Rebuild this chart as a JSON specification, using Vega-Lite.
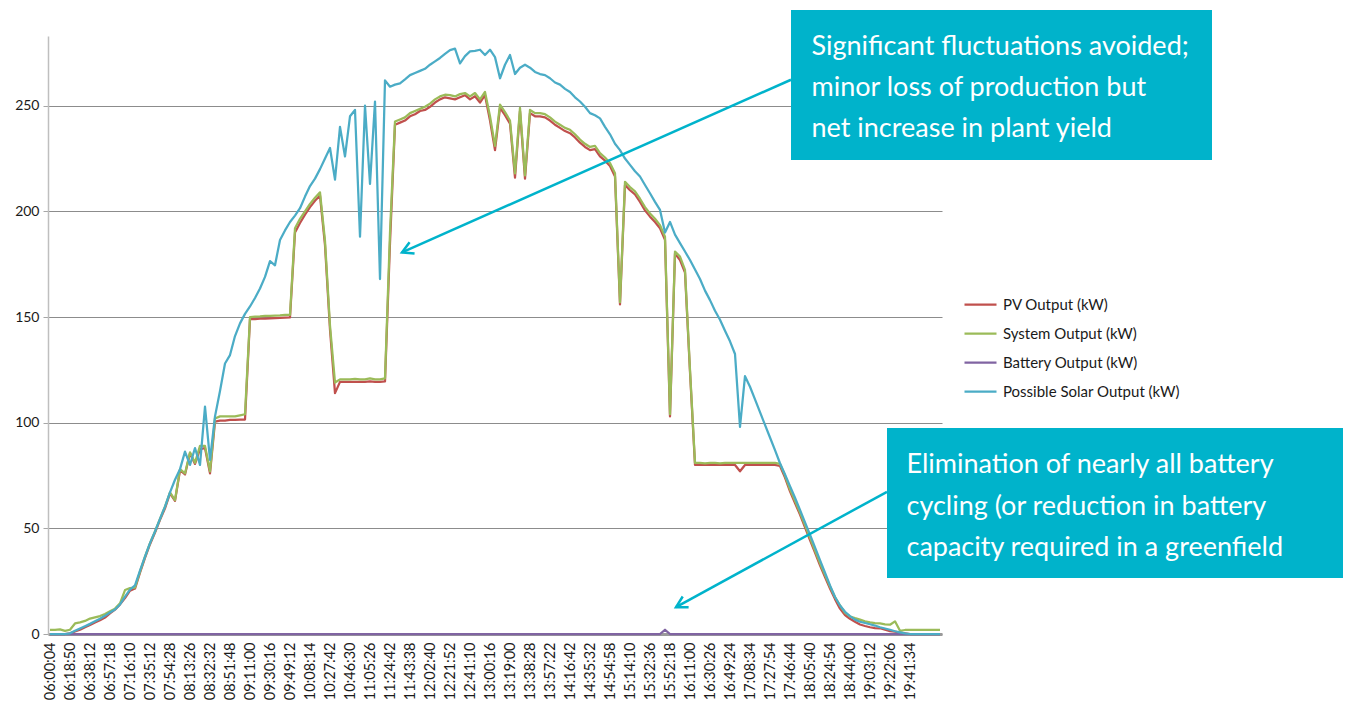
{
  "$schema": "https://vega.github.io/schema/vega-lite/v6.json",
  "width": 894,
  "height": 598,
  "autosize": {"type": "none"},
  "padding": {"left": 48, "top": 36, "right": 410, "bottom": 75},
  "background": "white",
  "config": {"view": {"stroke": null}, "font": "Lato"},
  "resolve": {"scale": {"x": "independent", "y": "independent"}},
  "layer": [
    {
      "data": {"values": [
        {"t":"06:00:04","pv":0,"sys":2,"bat":0,"pos":0},
        {"t":"06:04:45","pv":0,"sys":2,"bat":0,"pos":0},
        {"t":"06:09:27","pv":0,"sys":2.2,"bat":0,"pos":0},
        {"t":"06:14:08","pv":0,"sys":1.5,"bat":0,"pos":0},
        {"t":"06:18:50","pv":0.3,"sys":2,"bat":0,"pos":0.3},
        {"t":"06:23:40","pv":1.2,"sys":5,"bat":0,"pos":1.5},
        {"t":"06:28:31","pv":2,"sys":5.5,"bat":0,"pos":2.6},
        {"t":"06:33:21","pv":3.2,"sys":6.2,"bat":0,"pos":3.7},
        {"t":"06:38:12","pv":4.3,"sys":7.3,"bat":0,"pos":4.8},
        {"t":"06:42:58","pv":5.5,"sys":7.9,"bat":0,"pos":6},
        {"t":"06:47:45","pv":6.5,"sys":8.5,"bat":0,"pos":7.2},
        {"t":"06:52:31","pv":7.8,"sys":9.5,"bat":0,"pos":8.6},
        {"t":"06:57:18","pv":9.8,"sys":10.8,"bat":0,"pos":10.2},
        {"t":"07:02:01","pv":11.5,"sys":12,"bat":0,"pos":11.6},
        {"t":"07:06:44","pv":14,"sys":14.5,"bat":0,"pos":14},
        {"t":"07:11:27","pv":17,"sys":20.8,"bat":0,"pos":17.7},
        {"t":"07:16:10","pv":20.5,"sys":21.7,"bat":0,"pos":21},
        {"t":"07:20:55","pv":21.5,"sys":22,"bat":0,"pos":23},
        {"t":"07:25:41","pv":29,"sys":29.5,"bat":0,"pos":30},
        {"t":"07:30:26","pv":36,"sys":36.6,"bat":0,"pos":36.6},
        {"t":"07:35:12","pv":42.5,"sys":43,"bat":0,"pos":43},
        {"t":"07:40:01","pv":48,"sys":48.5,"bat":0,"pos":48.5},
        {"t":"07:44:50","pv":54,"sys":54.5,"bat":0,"pos":54.5},
        {"t":"07:49:39","pv":59.5,"sys":60.3,"bat":0,"pos":60.3},
        {"t":"07:54:28","pv":66.5,"sys":67,"bat":0,"pos":67},
        {"t":"07:59:12","pv":63,"sys":63.4,"bat":0,"pos":73},
        {"t":"08:03:57","pv":77.5,"sys":78,"bat":0,"pos":78},
        {"t":"08:08:41","pv":75.5,"sys":76,"bat":0,"pos":86.3},
        {"t":"08:13:26","pv":85.5,"sys":86,"bat":0,"pos":80},
        {"t":"08:18:12","pv":80.5,"sys":81,"bat":0,"pos":88},
        {"t":"08:22:59","pv":87.5,"sys":89,"bat":0,"pos":80},
        {"t":"08:27:45","pv":88,"sys":89,"bat":0,"pos":107.6},
        {"t":"08:32:32","pv":76,"sys":77,"bat":0,"pos":82.4},
        {"t":"08:37:21","pv":100.5,"sys":102,"bat":0,"pos":103},
        {"t":"08:42:10","pv":101,"sys":103,"bat":0,"pos":115},
        {"t":"08:46:59","pv":101,"sys":103,"bat":0,"pos":128},
        {"t":"08:51:48","pv":101.3,"sys":103,"bat":0,"pos":132},
        {"t":"08:56:36","pv":101.3,"sys":103,"bat":0,"pos":141},
        {"t":"09:01:24","pv":101.5,"sys":103.5,"bat":0,"pos":147},
        {"t":"09:06:12","pv":101.5,"sys":104,"bat":0,"pos":151.5},
        {"t":"09:11:00","pv":149,"sys":150,"bat":0,"pos":155},
        {"t":"09:15:49","pv":149,"sys":150.2,"bat":0,"pos":159},
        {"t":"09:20:38","pv":149.2,"sys":150.3,"bat":0,"pos":163.5},
        {"t":"09:25:27","pv":149.3,"sys":150.5,"bat":0,"pos":169},
        {"t":"09:30:16","pv":149.4,"sys":150.6,"bat":0,"pos":176.5},
        {"t":"09:35:00","pv":149.5,"sys":150.7,"bat":0,"pos":174.5},
        {"t":"09:39:44","pv":149.6,"sys":150.8,"bat":0,"pos":186.5},
        {"t":"09:44:28","pv":149.7,"sys":151,"bat":0,"pos":191},
        {"t":"09:49:12","pv":149.8,"sys":151,"bat":0,"pos":195},
        {"t":"09:53:57","pv":190,"sys":192,"bat":0,"pos":198},
        {"t":"09:58:43","pv":194.5,"sys":196.5,"bat":0,"pos":201.5},
        {"t":"10:03:28","pv":198.5,"sys":200,"bat":0,"pos":207},
        {"t":"10:08:14","pv":202,"sys":203.5,"bat":0,"pos":212},
        {"t":"10:13:06","pv":205,"sys":206.5,"bat":0,"pos":215.5},
        {"t":"10:17:58","pv":207.5,"sys":209,"bat":0,"pos":220},
        {"t":"10:22:50","pv":184,"sys":186,"bat":0,"pos":225},
        {"t":"10:27:42","pv":144,"sys":146,"bat":0,"pos":230},
        {"t":"10:32:24","pv":114,"sys":119,"bat":0,"pos":215},
        {"t":"10:37:06","pv":119.3,"sys":120.5,"bat":0,"pos":240},
        {"t":"10:41:48","pv":119.3,"sys":120.5,"bat":0,"pos":226},
        {"t":"10:46:30","pv":119.3,"sys":120.5,"bat":0,"pos":245},
        {"t":"10:51:14","pv":119.3,"sys":120.7,"bat":0,"pos":248},
        {"t":"10:55:58","pv":119.3,"sys":120.5,"bat":0,"pos":188},
        {"t":"11:00:42","pv":119.3,"sys":120.5,"bat":0,"pos":250},
        {"t":"11:05:26","pv":119.5,"sys":121,"bat":0,"pos":213},
        {"t":"11:10:15","pv":119.3,"sys":120.5,"bat":0,"pos":252},
        {"t":"11:15:04","pv":119.3,"sys":120.5,"bat":0,"pos":168},
        {"t":"11:19:53","pv":119.5,"sys":121,"bat":0,"pos":262},
        {"t":"11:24:42","pv":185,"sys":190,"bat":0,"pos":259},
        {"t":"11:29:26","pv":241,"sys":242.5,"bat":0,"pos":260},
        {"t":"11:34:10","pv":242,"sys":243.5,"bat":0,"pos":260.6},
        {"t":"11:38:54","pv":243,"sys":244.5,"bat":0,"pos":262.5},
        {"t":"11:43:38","pv":245,"sys":246.5,"bat":0,"pos":264.5},
        {"t":"11:48:23","pv":246,"sys":247.5,"bat":0,"pos":265.5},
        {"t":"11:53:09","pv":247.5,"sys":248.5,"bat":0,"pos":266.5},
        {"t":"11:57:54","pv":248,"sys":249.5,"bat":0,"pos":267.5},
        {"t":"12:02:40","pv":249.5,"sys":251,"bat":0,"pos":269.4},
        {"t":"12:07:28","pv":251.5,"sys":253,"bat":0,"pos":271},
        {"t":"12:12:16","pv":253,"sys":254.4,"bat":0,"pos":272.6},
        {"t":"12:17:04","pv":254,"sys":255.2,"bat":0,"pos":274.5},
        {"t":"12:21:52","pv":253.5,"sys":255,"bat":0,"pos":276.3},
        {"t":"12:26:41","pv":253,"sys":254.4,"bat":0,"pos":277},
        {"t":"12:31:31","pv":254,"sys":255.5,"bat":0,"pos":270},
        {"t":"12:36:20","pv":255,"sys":256,"bat":0,"pos":273.5},
        {"t":"12:41:10","pv":253,"sys":254.4,"bat":0,"pos":275.7},
        {"t":"12:45:56","pv":254.5,"sys":256,"bat":0,"pos":276},
        {"t":"12:50:43","pv":251.5,"sys":253,"bat":0,"pos":276.5},
        {"t":"12:55:29","pv":255,"sys":256.5,"bat":0,"pos":274},
        {"t":"13:00:16","pv":243,"sys":245,"bat":0,"pos":276.5},
        {"t":"13:04:57","pv":229,"sys":231,"bat":0,"pos":273},
        {"t":"13:09:38","pv":249,"sys":250.5,"bat":0,"pos":263},
        {"t":"13:14:19","pv":245.5,"sys":247,"bat":0,"pos":269.4},
        {"t":"13:19:00","pv":241.5,"sys":243,"bat":0,"pos":274},
        {"t":"13:23:52","pv":216,"sys":218,"bat":0,"pos":265},
        {"t":"13:28:44","pv":247.5,"sys":249,"bat":0,"pos":268},
        {"t":"13:33:36","pv":215.5,"sys":217,"bat":0,"pos":269.4},
        {"t":"13:38:28","pv":246.5,"sys":248,"bat":0,"pos":268},
        {"t":"13:43:11","pv":245,"sys":246.5,"bat":0,"pos":266},
        {"t":"13:47:55","pv":245,"sys":246.5,"bat":0,"pos":265},
        {"t":"13:52:38","pv":244.5,"sys":246,"bat":0,"pos":264.5},
        {"t":"13:57:22","pv":243,"sys":244.5,"bat":0,"pos":263},
        {"t":"14:02:12","pv":241,"sys":242.5,"bat":0,"pos":261},
        {"t":"14:07:02","pv":239.5,"sys":241,"bat":0,"pos":260},
        {"t":"14:11:52","pv":238,"sys":239.5,"bat":0,"pos":258},
        {"t":"14:16:42","pv":237,"sys":238.6,"bat":0,"pos":256.5},
        {"t":"14:21:24","pv":235,"sys":236.5,"bat":0,"pos":254},
        {"t":"14:26:07","pv":232.5,"sys":234,"bat":0,"pos":252},
        {"t":"14:30:49","pv":230.5,"sys":232,"bat":0,"pos":249.5},
        {"t":"14:35:32","pv":229,"sys":230.5,"bat":0,"pos":246.5},
        {"t":"14:40:23","pv":229.5,"sys":231,"bat":0,"pos":245.5},
        {"t":"14:45:15","pv":226,"sys":227.6,"bat":0,"pos":244},
        {"t":"14:50:06","pv":224,"sys":225.5,"bat":0,"pos":240},
        {"t":"14:54:58","pv":221.5,"sys":222.9,"bat":0,"pos":236.5},
        {"t":"14:59:46","pv":216.5,"sys":218,"bat":0,"pos":232},
        {"t":"15:04:34","pv":156,"sys":157,"bat":0,"pos":229},
        {"t":"15:09:22","pv":212.5,"sys":214,"bat":0,"pos":225},
        {"t":"15:14:10","pv":210,"sys":211.5,"bat":0,"pos":222},
        {"t":"15:18:46","pv":208,"sys":209.5,"bat":0,"pos":219},
        {"t":"15:23:23","pv":204.5,"sys":206,"bat":0,"pos":216.5},
        {"t":"15:27:59","pv":200.5,"sys":202,"bat":0,"pos":212.5},
        {"t":"15:32:36","pv":197.5,"sys":199,"bat":0,"pos":208.6},
        {"t":"15:37:31","pv":195,"sys":196.5,"bat":0,"pos":204.5},
        {"t":"15:42:27","pv":192,"sys":193.5,"bat":0,"pos":200.7},
        {"t":"15:47:22","pv":186.5,"sys":188,"bat":2,"pos":190},
        {"t":"15:52:18","pv":103,"sys":104,"bat":0,"pos":195},
        {"t":"15:56:58","pv":180,"sys":181,"bat":0,"pos":189},
        {"t":"16:01:39","pv":177,"sys":178.6,"bat":0,"pos":185},
        {"t":"16:06:19","pv":171,"sys":172.3,"bat":0,"pos":181},
        {"t":"16:11:00","pv":124,"sys":125,"bat":0,"pos":177},
        {"t":"16:15:51","pv":80,"sys":81,"bat":0,"pos":172.5},
        {"t":"16:20:43","pv":80,"sys":81,"bat":0,"pos":168},
        {"t":"16:25:34","pv":80,"sys":80.8,"bat":0,"pos":162.5},
        {"t":"16:30:26","pv":80,"sys":81,"bat":0,"pos":158},
        {"t":"16:35:10","pv":80,"sys":81,"bat":0,"pos":153},
        {"t":"16:39:55","pv":80,"sys":80.8,"bat":0,"pos":148.7},
        {"t":"16:44:39","pv":80,"sys":81,"bat":0,"pos":143.5},
        {"t":"16:49:24","pv":80,"sys":81,"bat":0,"pos":138.5},
        {"t":"16:54:11","pv":80,"sys":81,"bat":0,"pos":132.5},
        {"t":"16:58:59","pv":77,"sys":81,"bat":0,"pos":98},
        {"t":"17:03:46","pv":80,"sys":81,"bat":0,"pos":122},
        {"t":"17:08:34","pv":80,"sys":81,"bat":0,"pos":117},
        {"t":"17:13:24","pv":80,"sys":81,"bat":0,"pos":111},
        {"t":"17:18:14","pv":80,"sys":81,"bat":0,"pos":105},
        {"t":"17:23:04","pv":80,"sys":81,"bat":0,"pos":99},
        {"t":"17:27:54","pv":80,"sys":81,"bat":0,"pos":93},
        {"t":"17:32:36","pv":80,"sys":81,"bat":0,"pos":87},
        {"t":"17:37:19","pv":79.5,"sys":80.5,"bat":0,"pos":80.8},
        {"t":"17:42:01","pv":74,"sys":75,"bat":0,"pos":75.5},
        {"t":"17:46:44","pv":67.5,"sys":68.5,"bat":0,"pos":70},
        {"t":"17:51:28","pv":62,"sys":63,"bat":0,"pos":64.5},
        {"t":"17:56:12","pv":56.5,"sys":57.5,"bat":0,"pos":58.7},
        {"t":"18:00:56","pv":50.5,"sys":51.5,"bat":0,"pos":52.8},
        {"t":"18:05:40","pv":44.5,"sys":45.5,"bat":0,"pos":47},
        {"t":"18:10:28","pv":38.5,"sys":39.5,"bat":0,"pos":41},
        {"t":"18:15:17","pv":32.5,"sys":33.5,"bat":0,"pos":35},
        {"t":"18:20:05","pv":27,"sys":28,"bat":0,"pos":29},
        {"t":"18:24:54","pv":21.5,"sys":22.5,"bat":0,"pos":23},
        {"t":"18:29:40","pv":16.5,"sys":17.5,"bat":0,"pos":17.5},
        {"t":"18:34:27","pv":12,"sys":13.5,"bat":0,"pos":13.5},
        {"t":"18:39:13","pv":9,"sys":10,"bat":0,"pos":10.5},
        {"t":"18:44:00","pv":7.2,"sys":8.3,"bat":0,"pos":8.5},
        {"t":"18:48:48","pv":5.8,"sys":7.5,"bat":0,"pos":6.8},
        {"t":"18:53:36","pv":4.5,"sys":6.8,"bat":0,"pos":5.8},
        {"t":"18:58:24","pv":3.8,"sys":6,"bat":0,"pos":5.2},
        {"t":"19:03:12","pv":3.2,"sys":5.5,"bat":0,"pos":4.6},
        {"t":"19:07:55","pv":2.8,"sys":5.2,"bat":0,"pos":4},
        {"t":"19:12:39","pv":2.7,"sys":5,"bat":0,"pos":3.2},
        {"t":"19:17:22","pv":2,"sys":4.6,"bat":0,"pos":2.6},
        {"t":"19:22:06","pv":1.4,"sys":4.4,"bat":0,"pos":2},
        {"t":"19:26:58","pv":1.1,"sys":6,"bat":0,"pos":1.3},
        {"t":"19:31:50","pv":0.6,"sys":1.5,"bat":0,"pos":0.8},
        {"t":"19:36:42","pv":0.3,"sys":1.9,"bat":0,"pos":0.3},
        {"t":"19:41:34","pv":0,"sys":1.9,"bat":0,"pos":0},
        {"t":"19:46:20","pv":0,"sys":1.9,"bat":0,"pos":0},
        {"t":"19:51:06","pv":0,"sys":2,"bat":0,"pos":0},
        {"t":"19:55:52","pv":0,"sys":1.9,"bat":0,"pos":0},
        {"t":"20:00:38","pv":0,"sys":2,"bat":0,"pos":0},
        {"t":"20:05:24","pv":0,"sys":2,"bat":0,"pos":0},
        {"t":"20:10:10","pv":0,"sys":2,"bat":0,"pos":0}
      ]},
      "transform": [{"fold": ["pv", "sys", "bat", "pos"], "as": ["series", "kW"]}],
      "mark": {"type": "line", "strokeWidth": 2.25, "strokeJoin": "round"},
      "encoding": {
        "x": {
          "field": "t", "type": "ordinal",
          "scale": {"type": "point", "padding": 0.4},
          "axis": {
            "values": ["06:00:04","06:18:50","06:38:12","06:57:18","07:16:10","07:35:12","07:54:28","08:13:26","08:32:32","08:51:48","09:11:00","09:30:16","09:49:12","10:08:14","10:27:42","10:46:30","11:05:26","11:24:42","11:43:38","12:02:40","12:21:52","12:41:10","13:00:16","13:19:00","13:38:28","13:57:22","14:16:42","14:35:32","14:54:58","15:14:10","15:32:36","15:52:18","16:11:00","16:30:26","16:49:24","17:08:34","17:27:54","17:46:44","18:05:40","18:24:54","18:44:00","19:03:12","19:22:06","19:41:34"],
            "labelAngle": -90, "ticks": false, "labelPadding": 8, "title": null,
            "domainColor": "#9A9A9A", "domainWidth": 3, "labelFontSize": 14.5, "labelFont": "Lato",
            "labelColor": "#1A1A1A", "labelOverlap": false, "grid": false
          }
        },
        "y": {
          "field": "kW", "type": "quantitative",
          "scale": {"domain": [0, 283], "nice": false},
          "axis": {
            "values": [0, 50, 100, 150, 200, 250], "title": null, "grid": true,
            "gridColor": "#8C8C8C", "tickSize": 5, "tickColor": "#A6A6A6",
            "domainColor": "#BFBFBF", "domainWidth": 1.5, "labelFontSize": 14, "labelFont": "Lato",
            "labelColor": "#1A1A1A", "labelPadding": 4
          }
        },
        "color": {
          "field": "series", "type": "nominal",
          "scale": {"domain": ["pv", "sys", "bat", "pos"], "range": ["#C0504D", "#9BBB59", "#8064A2", "#4BACC6"]},
          "legend": {
            "title": null, "orient": "none", "legendX": 915, "legendY": 251,
            "symbolType": "stroke", "symbolSize": 1024, "symbolStrokeWidth": 2.25,
            "labelFont": "Lato", "labelFontSize": 15, "labelColor": "#1A1A1A",
            "rowPadding": 3, "labelOffset": 5, "labelLimit": 400,
            "labelExpr": "datum.label == 'pv' ? 'PV Output (kW)' : datum.label == 'sys' ? 'System Output (kW)' : datum.label == 'bat' ? 'Battery Output (kW)' : 'Possible Solar Output (kW)'"
          }
        }
      }
    },
    {
      "layer": [
        {
          "data": {"values": [
            {"x1": 148.2, "y1": 262.3, "x2": 70.4, "y2": 180.6},
            {"x1": 167.4, "y1": 67.3, "x2": 125.2, "y2": 12.7}
          ]},
          "mark": {"type": "rule", "color": "#00B3CB", "strokeWidth": 2.5},
          "encoding": {
            "x": {"field": "x1", "type": "quantitative", "scale": {"domain": [-0.4, 178.4], "nice": false, "zero": false}, "axis": null},
            "x2": {"field": "x2"},
            "y": {"field": "y1", "type": "quantitative", "scale": {"domain": [0, 283], "nice": false}, "axis": null},
            "y2": {"field": "y2"}
          }
        },
        {
          "data": {"values": [{"x": 70.4, "y": 180.6}]},
          "mark": {"type": "point", "shape": "M -0.5 0.9 L 0 0 L 0.5 0.9", "filled": false, "color": "#00B3CB", "strokeWidth": 2.5, "size": 600, "angle": 246, "opacity": 1},
          "encoding": {
            "x": {"field": "x", "type": "quantitative", "scale": {"domain": [-0.4, 178.4], "nice": false, "zero": false}, "axis": null},
            "y": {"field": "y", "type": "quantitative", "scale": {"domain": [0, 283], "nice": false}, "axis": null}
          }
        },
        {
          "data": {"values": [{"x": 125.2, "y": 12.7}]},
          "mark": {"type": "point", "shape": "M -0.5 0.9 L 0 0 L 0.5 0.9", "filled": false, "color": "#00B3CB", "strokeWidth": 2.5, "size": 600, "angle": 241.3, "opacity": 1},
          "encoding": {
            "x": {"field": "x", "type": "quantitative", "scale": {"domain": [-0.4, 178.4], "nice": false, "zero": false}, "axis": null},
            "y": {"field": "y", "type": "quantitative", "scale": {"domain": [0, 283], "nice": false}, "axis": null}
          }
        },
        {
          "data": {"values": [
            {"x1": 148.2, "x2": 232.4, "y1": 295.3, "y2": 224.3},
            {"x1": 167.4, "x2": 258.6, "y1": 97.5, "y2": 26.5}
          ]},
          "mark": {"type": "rect", "color": "#00B3CB", "opacity": 1},
          "encoding": {
            "x": {"field": "x1", "type": "quantitative", "scale": {"domain": [-0.4, 178.4], "nice": false, "zero": false}, "axis": null},
            "x2": {"field": "x2"},
            "y": {"field": "y1", "type": "quantitative", "scale": {"domain": [0, 283], "nice": false}, "axis": null},
            "y2": {"field": "y2"}
          }
        },
        {
          "data": {"values": [
            {"x": 152.3, "y": 274.0, "text": "Significant fluctuations avoided;"},
            {"x": 152.3, "y": 254.6, "text": "minor loss of production but"},
            {"x": 152.3, "y": 235.2, "text": "net increase in plant yield"},
            {"x": 171.3, "y": 76.1, "text": "Elimination of nearly all battery"},
            {"x": 171.3, "y": 56.3, "text": "cycling (or reduction in battery"},
            {"x": 171.3, "y": 36.9, "text": "capacity required in a greenfield"}
          ]},
          "mark": {"type": "text", "align": "left", "baseline": "alphabetic", "color": "white", "font": "Lato", "fontSize": 27},
          "encoding": {
            "x": {"field": "x", "type": "quantitative", "scale": {"domain": [-0.4, 178.4], "nice": false, "zero": false}, "axis": null},
            "y": {"field": "y", "type": "quantitative", "scale": {"domain": [0, 283], "nice": false}, "axis": null},
            "text": {"field": "text"}
          }
        }
      ]
    }
  ]
}
